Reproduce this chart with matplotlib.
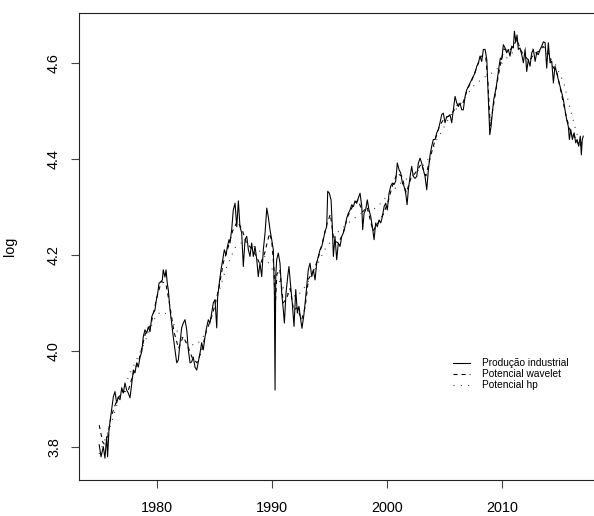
"""Produção industrial (log) com potencial wavelet e HP, estilo R base graphics."""

import matplotlib

matplotlib.use("Agg")

import matplotlib.pyplot as plt  # noqa: E402

plt.rcParams["font.family"] = ["Liberation Sans", "DejaVu Sans"]
plt.rcParams["lines.scale_dashes"] = False

# Produção industrial (log)
prod_year = [
    1975.00, 1975.16, 1975.36, 1975.50, 1975.65, 1975.73, 1975.85, 1976.00, 1976.23, 1976.37,
    1976.52, 1976.66, 1976.81, 1976.96, 1977.10, 1977.24, 1977.39, 1977.53, 1977.68, 1977.83,
    1977.97, 1978.11, 1978.26, 1978.40, 1978.55, 1978.70, 1978.83, 1978.98, 1979.13, 1979.27,
    1979.42, 1979.57, 1979.70, 1979.85, 1979.94, 1980.09, 1980.20, 1980.35, 1980.49, 1980.57,
    1980.72, 1980.81, 1980.92, 1981.01, 1981.16, 1981.30, 1981.44, 1981.59, 1981.74, 1981.88,
    1982.03, 1982.17, 1982.31, 1982.46, 1982.61, 1982.75, 1982.90, 1983.04, 1983.18, 1983.33,
    1983.48, 1983.62, 1983.77, 1983.91, 1984.05, 1984.20, 1984.35, 1984.49, 1984.63, 1984.78,
    1984.92, 1985.07, 1985.22, 1985.30, 1985.44, 1985.59, 1985.74, 1985.88, 1986.03, 1986.14,
    1986.29, 1986.37, 1986.52, 1986.66, 1986.81, 1986.96, 1987.10, 1987.24, 1987.39, 1987.53,
    1987.68, 1987.83, 1987.97, 1988.11, 1988.26, 1988.40, 1988.55, 1988.70, 1988.83, 1988.98,
    1989.13, 1989.27, 1989.42, 1989.57, 1989.70, 1989.85, 1990.00, 1990.14, 1990.23, 1990.29,
    1990.35, 1990.43, 1990.57, 1990.72, 1990.87, 1991.01, 1991.10, 1991.24, 1991.39, 1991.50,
    1991.65, 1991.79, 1991.94, 1992.09, 1992.23, 1992.37, 1992.52, 1992.63, 1992.78, 1992.90,
    1993.04, 1993.18, 1993.33, 1993.48, 1993.62, 1993.77, 1993.91, 1994.05, 1994.20, 1994.35,
    1994.49, 1994.63, 1994.78, 1994.87, 1995.01, 1995.16, 1995.27, 1995.36, 1995.50, 1995.65,
    1995.79, 1995.94, 1996.09, 1996.23, 1996.37, 1996.52, 1996.66, 1996.81, 1996.96, 1997.10,
    1997.24, 1997.39, 1997.53, 1997.68, 1997.83, 1997.91, 1998.03, 1998.17, 1998.31, 1998.46,
    1998.61, 1998.75, 1998.90, 1999.04, 1999.18, 1999.33, 1999.48, 1999.62, 1999.77, 1999.91,
    2000.05, 2000.20, 2000.35, 2000.49, 2000.63, 2000.78, 2000.92, 2001.07, 2001.22, 2001.36,
    2001.50, 2001.65, 2001.77, 2001.88, 2002.03, 2002.17, 2002.31, 2002.46, 2002.61, 2002.75,
    2002.90, 2003.04, 2003.18, 2003.33, 2003.48, 2003.62, 2003.77, 2003.91, 2004.05, 2004.20,
    2004.35, 2004.49, 2004.63, 2004.78, 2004.92, 2005.07, 2005.22, 2005.36, 2005.50, 2005.65,
    2005.79, 2005.94, 2006.09, 2006.23, 2006.37, 2006.52, 2006.66, 2006.81, 2006.96, 2007.10,
    2007.24, 2007.39, 2007.53, 2007.68, 2007.83, 2007.97, 2008.11, 2008.26, 2008.40, 2008.55,
    2008.70, 2008.78, 2008.90, 2008.96, 2009.07, 2009.18, 2009.30, 2009.42, 2009.53, 2009.65,
    2009.77, 2009.88, 2010.00, 2010.14, 2010.29, 2010.43, 2010.57, 2010.72, 2010.87, 2011.01,
    2011.10, 2011.22, 2011.33, 2011.44, 2011.59, 2011.74, 2011.88, 2012.03, 2012.17, 2012.31,
    2012.46, 2012.61, 2012.75, 2012.90, 2013.04, 2013.18, 2013.33, 2013.48, 2013.62, 2013.77,
    2013.91, 2014.05, 2014.20, 2014.35, 2014.49, 2014.63, 2014.78, 2014.92, 2015.07, 2015.22,
    2015.36, 2015.50, 2015.65, 2015.79, 2015.88, 2016.00, 2016.14, 2016.29, 2016.43, 2016.55,
    2016.69, 2016.83, 2016.92, 2017.00, 2017.09,
]
prod_val = [
    3.804, 3.779, 3.800, 3.776, 3.821, 3.779, 3.835, 3.863, 3.904, 3.915,
    3.891, 3.904, 3.898, 3.923, 3.912, 3.933, 3.918, 3.912, 3.902, 3.933,
    3.960, 3.954, 3.975, 3.966, 3.987, 3.998, 4.029, 4.044, 4.037, 4.050,
    4.040, 4.071, 4.079, 4.085, 4.102, 4.121, 4.141, 4.144, 4.148, 4.169,
    4.154, 4.169, 4.141, 4.127, 4.085, 4.058, 4.029, 4.002, 3.975, 3.981,
    4.017, 4.048, 4.058, 4.065, 4.044, 4.002, 3.975, 3.977, 3.987, 3.966,
    3.960, 3.977, 3.996, 4.017, 4.002, 4.029, 4.050, 4.065, 4.058, 4.079,
    4.100, 4.107, 4.048, 4.113, 4.141, 4.169, 4.190, 4.211, 4.200, 4.217,
    4.232, 4.225, 4.253, 4.294, 4.308, 4.259, 4.313, 4.259, 4.246, 4.176,
    4.232, 4.239, 4.211, 4.197, 4.225, 4.197, 4.218, 4.190, 4.155, 4.183,
    4.155, 4.211, 4.246, 4.298, 4.280, 4.253, 4.232, 4.211, 4.120, 3.918,
    4.155, 4.190, 4.204, 4.183, 4.120, 4.085, 4.058, 4.120, 4.155, 4.176,
    4.134, 4.099, 4.051, 4.128, 4.079, 4.093, 4.065, 4.047, 4.072, 4.099,
    4.134, 4.169, 4.183, 4.155, 4.169, 4.148, 4.183, 4.197, 4.211, 4.218,
    4.232, 4.249, 4.259, 4.333, 4.329, 4.315, 4.259, 4.197, 4.239, 4.190,
    4.225, 4.218, 4.239, 4.246, 4.259, 4.277, 4.287, 4.294, 4.305, 4.301,
    4.313, 4.308, 4.319, 4.329, 4.301, 4.253, 4.287, 4.294, 4.315, 4.294,
    4.280, 4.259, 4.232, 4.267, 4.259, 4.273, 4.267, 4.280, 4.301, 4.308,
    4.294, 4.329, 4.344, 4.350, 4.347, 4.354, 4.392, 4.378, 4.371, 4.350,
    4.344, 4.329, 4.305, 4.336, 4.364, 4.385, 4.364, 4.360, 4.364, 4.392,
    4.402, 4.392, 4.378, 4.364, 4.336, 4.378, 4.409, 4.427, 4.441, 4.441,
    4.455, 4.462, 4.476, 4.493, 4.496, 4.476, 4.489, 4.489, 4.493, 4.476,
    4.503, 4.531, 4.517, 4.510, 4.517, 4.503, 4.503, 4.531, 4.545, 4.552,
    4.559, 4.566, 4.573, 4.580, 4.594, 4.601, 4.615, 4.604, 4.629, 4.629,
    4.608, 4.559, 4.489, 4.451, 4.468, 4.496, 4.524, 4.538, 4.552, 4.573,
    4.594, 4.611, 4.608, 4.639, 4.632, 4.622, 4.629, 4.615, 4.636, 4.632,
    4.667, 4.645, 4.659, 4.629, 4.632, 4.618, 4.601, 4.629, 4.583, 4.608,
    4.594, 4.622, 4.629, 4.604, 4.622, 4.618, 4.629, 4.636, 4.645, 4.643,
    4.590, 4.643, 4.601, 4.604, 4.559, 4.594, 4.580, 4.566, 4.552, 4.538,
    4.524, 4.503, 4.482, 4.468, 4.441, 4.462, 4.441, 4.455, 4.434, 4.441,
    4.427, 4.448, 4.409, 4.441, 4.448,
]

# Potencial wavelet
wav_year = [
    1975.0, 1975.3, 1975.6, 1976.0, 1976.5, 1977.0, 1977.5, 1978.0, 1978.5, 1979.0,
    1979.5, 1980.0, 1980.4, 1980.8, 1981.1, 1981.5, 1981.9, 1982.3, 1982.7, 1983.1,
    1983.5, 1983.9, 1984.3, 1984.7, 1985.0, 1985.4, 1985.8, 1986.2, 1986.6, 1987.0,
    1987.4, 1987.8, 1988.2, 1988.6, 1989.0, 1989.4, 1989.8, 1990.0, 1990.2, 1990.3,
    1990.45, 1990.7, 1991.0, 1991.3, 1991.6, 1991.9, 1992.2, 1992.6, 1992.9, 1993.2,
    1993.6, 1994.0, 1994.4, 1994.8, 1995.1, 1995.4, 1995.8, 1996.2, 1996.6, 1997.0,
    1997.5, 1997.9, 1998.3, 1998.8, 1999.2, 1999.7, 2000.1, 2000.5, 2000.9, 2001.3,
    2001.7, 2002.1, 2002.6, 2003.0, 2003.4, 2003.8, 2004.2, 2004.6, 2005.0, 2005.4,
    2005.8, 2006.2, 2006.6, 2007.0, 2007.4, 2007.8, 2008.2, 2008.6, 2008.8, 2009.0,
    2009.3, 2009.6, 2009.9, 2010.2, 2010.6, 2011.0, 2011.3, 2011.7, 2012.0, 2012.4,
    2012.8, 2013.2, 2013.6, 2014.0, 2014.4, 2014.8, 2015.2, 2015.6, 2016.0, 2016.4,
    2016.8, 2017.0,
]
wav_val = [
    3.845, 3.810, 3.800, 3.860, 3.895, 3.915, 3.915, 3.955, 3.985, 4.035,
    4.055, 4.110, 4.145, 4.140, 4.100, 4.040, 4.005, 4.030, 4.010, 3.985,
    3.975, 4.000, 4.040, 4.065, 4.090, 4.130, 4.185, 4.215, 4.250, 4.270,
    4.255, 4.225, 4.215, 4.200, 4.180, 4.205, 4.245, 4.230, 4.170, 4.090,
    4.160, 4.170, 4.100, 4.110, 4.130, 4.085, 4.090, 4.065, 4.090, 4.150,
    4.165, 4.190, 4.225, 4.265, 4.285, 4.230, 4.225, 4.245, 4.280, 4.300,
    4.315, 4.290, 4.300, 4.250, 4.265, 4.285, 4.310, 4.345, 4.370, 4.365,
    4.330, 4.360, 4.375, 4.390, 4.365, 4.405, 4.440, 4.470, 4.485, 4.490,
    4.500, 4.515, 4.515, 4.545, 4.565, 4.590, 4.615, 4.615, 4.560, 4.470,
    4.515, 4.560, 4.600, 4.630, 4.625, 4.635, 4.650, 4.625, 4.615, 4.605,
    4.620, 4.625, 4.635, 4.625, 4.595, 4.580, 4.535, 4.490, 4.455, 4.445,
    4.425, 4.440,
]

# Potencial hp
hp_year = [
    1975.0, 1976.0, 1976.5, 1977.0, 1977.7, 1978.8, 1979.5, 1980.0, 1980.5, 1981.2,
    1981.7, 1982.3, 1982.9, 1983.5, 1984.05, 1984.6, 1985.2, 1986.0, 1986.8, 1987.5,
    1988.2, 1988.8, 1989.4, 1989.9, 1990.6, 1991.3, 1992.2, 1992.9, 1993.6, 1994.6,
    1995.8, 1996.96, 1998.0, 1999.1, 2000.0, 2001.2, 2002.5, 2003.5, 2004.35, 2005.5,
    2006.7, 2007.5, 2008.4, 2009.4, 2010.3, 2011.15, 2012.0, 2012.9, 2013.8, 2014.6,
    2015.4, 2015.9, 2016.5, 2017.0,
]
hp_val = [
    3.785, 3.845, 3.884, 3.915, 3.954, 4.009, 4.050, 4.076, 4.082, 4.071,
    4.044, 4.022, 4.013, 4.013, 4.030, 4.058, 4.107, 4.170, 4.215, 4.228,
    4.222, 4.212, 4.197, 4.176, 4.148, 4.120, 4.113, 4.134, 4.162, 4.211,
    4.249, 4.273, 4.291, 4.298, 4.322, 4.350, 4.371, 4.395, 4.440, 4.489,
    4.524, 4.552, 4.570, 4.583, 4.608, 4.627, 4.632, 4.629, 4.622, 4.601,
    4.559, 4.510, 4.455, 4.427,
]

x_ticks = [1980, 1990, 2000, 2010]
y_ticks = [3.8, 4.0, 4.2, 4.4, 4.6]
labels = ["Produção industrial", "Potencial wavelet", "Potencial hp"]

W, H = 594, 516
fig = plt.figure(figsize=(W / 100, H / 100), dpi=100)
# plot region in pixels: left 79.3, top 13.3, bottom 480; right side runs past the image
ax = fig.add_axes([79.3 / W, 36 / H, 521.7 / W, 466.7 / H])

lw = 0.78
ax.plot(prod_year, prod_val, color="black", lw=lw, label=labels[0])
ax.plot(wav_year, wav_val, color="black", lw=lw, linestyle=(0, (2.9, 2.9)), label=labels[1])
ax.plot(hp_year, hp_val, color="#333333", lw=lw, linestyle=(0, (0.75, 4.5)), label=labels[2])

ax.set_xlim(1973.27, 2018.63)
ax.set_ylim(3.7305, 4.7044)
ax.set_xticks(x_ticks)
ax.set_xticklabels([str(t) for t in x_ticks])
ax.set_yticks(y_ticks)
ax.set_yticklabels([f"{t:.1f}" for t in y_ticks])

for s in ax.spines.values():
    s.set_linewidth(0.8)
    s.set_color("#222222")
ax.tick_params(direction="out", length=5.6, width=0.8, color="#444444", labelsize=10.4)
ax.tick_params(axis="x", pad=9.5)
ax.tick_params(axis="y", pad=7.5)
for lab in ax.get_yticklabels():
    lab.set_rotation(90)
    lab.set_va("center")

ax.set_ylabel("log", fontsize=10.4)
ax.yaxis.set_label_coords(-0.119, 0.5)

ax.legend(
    loc="upper left",
    bbox_to_anchor=(0.716, 0.261),
    frameon=False,
    fontsize=7.3,
    handlelength=1.7,
    handletextpad=1.15,
    borderpad=0,
    borderaxespad=0,
    labelspacing=0.1,
)

fig.savefig("out.png", dpi=100)
plt.close(fig)
